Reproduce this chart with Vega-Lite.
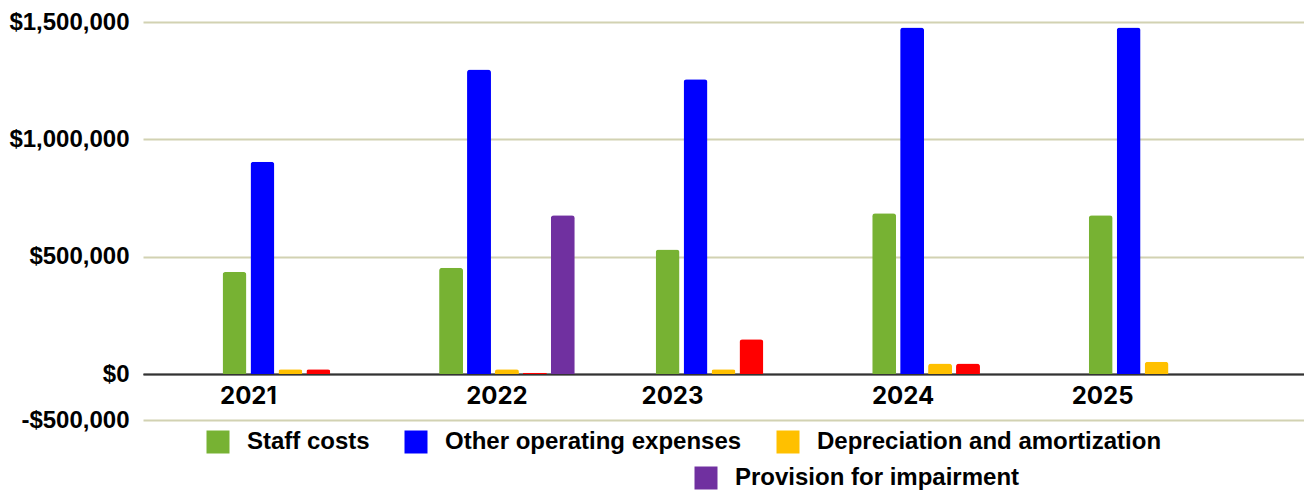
{
  "$schema": "https://vega.github.io/schema/vega-lite/v6.json",
  "autosize": "none",
  "width": 1161,
  "height": 398,
  "padding": {"left": 143, "top": 22, "right": 0, "bottom": 72},
  "background": "#ffffff",
  "config": {"view": {"stroke": null}, "font": "Liberation Sans"},
  "data": {
    "values": [
      {"year": "2021", "series": "Staff costs", "value": 435000},
      {"year": "2021", "series": "Other operating expenses", "value": 905000},
      {"year": "2021", "series": "Depreciation and amortization", "value": 20000},
      {"year": "2021", "series": "Finance costs", "value": 20000},
      {"year": "2022", "series": "Staff costs", "value": 453000},
      {"year": "2022", "series": "Other operating expenses", "value": 1298000},
      {"year": "2022", "series": "Depreciation and amortization", "value": 20000},
      {"year": "2022", "series": "Finance costs", "value": 5000},
      {"year": "2022", "series": "Provision for impairment", "value": 677000},
      {"year": "2023", "series": "Staff costs", "value": 531000},
      {"year": "2023", "series": "Other operating expenses", "value": 1256000},
      {"year": "2023", "series": "Depreciation and amortization", "value": 20000},
      {"year": "2023", "series": "Finance costs", "value": 148000},
      {"year": "2024", "series": "Staff costs", "value": 685000},
      {"year": "2024", "series": "Other operating expenses", "value": 1477000},
      {"year": "2024", "series": "Depreciation and amortization", "value": 45000},
      {"year": "2024", "series": "Finance costs", "value": 45000},
      {"year": "2025", "series": "Staff costs", "value": 676000},
      {"year": "2025", "series": "Other operating expenses", "value": 1477000},
      {"year": "2025", "series": "Depreciation and amortization", "value": 52000}
    ]
  },
  "encoding": {
    "x": {
      "field": "year",
      "type": "nominal",
      "scale": {"paddingInner": 0.3733, "paddingOuter": 0.3673},
      "axis": {
        "title": null,
        "orient": "bottom",
        "offset": -46,
        "domain": true,
        "domainColor": "#333333",
        "domainWidth": 1.5,
        "ticks": false,
        "grid": false,
        "labelAngle": 0,
        "labelFont": "Inter",
        "labelFontWeight": "bold",
        "labelFontSize": 24,
        "labelColor": "#000000",
        "labelPadding": 10,
        "labelOffset": {
          "condition": [
            {"test": "datum.value === '2021'", "value": -42},
            {"test": "datum.value === '2022'", "value": -10},
            {"test": "datum.value === '2023'", "value": -51},
            {"test": "datum.value === '2024'", "value": -37}
          ],
          "value": -54
        }
      }
    },
    "xOffset": {
      "field": "series",
      "type": "nominal",
      "scale": {
        "domain": ["Staff costs", "Other operating expenses", "Depreciation and amortization", "Finance costs", "Provision for impairment"],
        "paddingInner": 0.143,
        "paddingOuter": 0
      }
    },
    "y": {
      "field": "value",
      "type": "quantitative",
      "scale": {"domain": [-196000, 1500000], "nice": false},
      "axis": {
        "title": null,
        "values": [-196000, 0, 500000, 1000000, 1500000],
        "labelExpr": "datum.value < 0 ? '-$500,000' : '$' + format(datum.value, ',')",
        "domain": false,
        "ticks": false,
        "grid": true,
        "gridColor": {"condition": {"test": "datum.value === 0", "value": "#333333"}, "value": "#d2d2b2"},
        "gridWidth": 2,
        "labelFont": "Liberation Sans",
        "labelFontWeight": "bold",
        "labelFontSize": 24,
        "labelColor": "#000000",
        "labelPadding": 14
      }
    }
  },
  "layer": [
    {
      "transform": [{"filter": "datum.series !== 'Provision for impairment'"}],
      "mark": {"type": "bar", "cornerRadiusTopLeft": 3, "cornerRadiusTopRight": 3},
      "encoding": {
        "color": {
          "field": "series",
          "type": "nominal",
          "scale": {
            "domain": ["Staff costs", "Other operating expenses", "Depreciation and amortization", "Finance costs"],
            "range": ["#77b233", "#0000ff", "#ffc000", "#ff0000"]
          },
          "legend": {
            "title": null,
            "values": ["Staff costs", "Other operating expenses", "Depreciation and amortization"],
            "orient": "none",
            "legendX": 63,
            "legendY": 408,
            "direction": "horizontal",
            "padding": 0,
            "symbolType": "square",
            "symbolSize": 529,
            "symbolStrokeWidth": 0,
            "labelFont": "Liberation Sans",
            "labelFontWeight": "bold",
            "labelFontSize": 24,
            "labelColor": "#000000",
            "labelOffset": 17,
            "labelLimit": 500,
            "columnPadding": 34
          }
        }
      }
    },
    {
      "transform": [{"filter": "datum.series === 'Provision for impairment'"}],
      "mark": {"type": "bar", "cornerRadiusTopLeft": 3, "cornerRadiusTopRight": 3},
      "encoding": {
        "color": {
          "field": "series",
          "type": "nominal",
          "scale": {"domain": ["Provision for impairment"], "range": ["#7030a0"]},
          "legend": {
            "title": null,
            "orient": "none",
            "legendX": 551,
            "legendY": 444,
            "direction": "horizontal",
            "padding": 0,
            "symbolType": "square",
            "symbolSize": 529,
            "symbolStrokeWidth": 0,
            "labelFont": "Liberation Sans",
            "labelFontWeight": "bold",
            "labelFontSize": 24,
            "labelColor": "#000000",
            "labelOffset": 17,
            "labelLimit": 500
          }
        }
      }
    }
  ],
  "resolve": {"scale": {"color": "independent"}, "legend": {"color": "independent"}}
}
